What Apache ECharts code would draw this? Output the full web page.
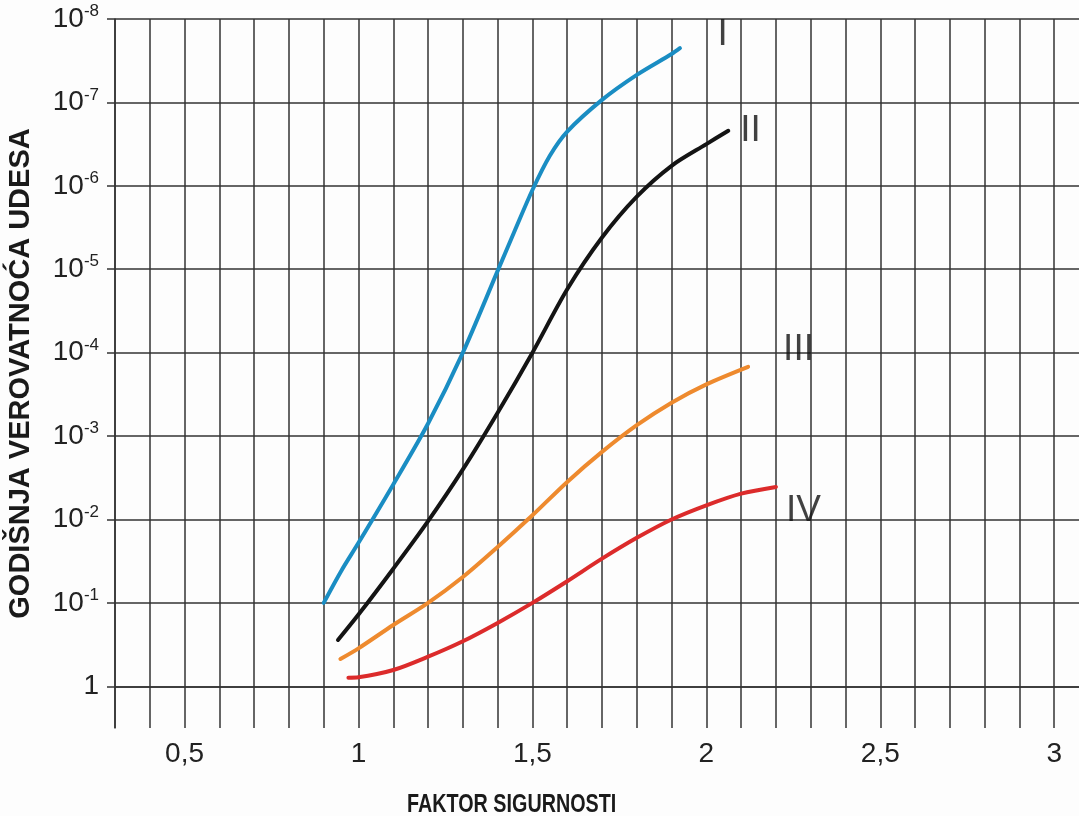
<!DOCTYPE html>
<html>
<head>
<meta charset="utf-8">
<title>Godišnja verovatnoća udesa</title>
<script src="https://cdn.jsdelivr.net/npm/echarts@6/dist/echarts.min.js"></script>
<style>
  html, body { margin: 0; padding: 0; background: #fdfdfd; }
  #chart { width: 1079px; height: 816px; }
</style>
</head>
<body>
<div id="chart"></div>
<script>
// x = faktor sigurnosti, v = eksponent (verovatnoca = 10^-v)
var xI = [0.9, 0.95, 1.0, 1.1, 1.2, 1.3, 1.4, 1.45, 1.5, 1.55, 1.6, 1.7, 1.8, 1.9, 1.924];
var vI = [1.0, 1.38, 1.72, 2.42, 3.15, 4.0, 4.98, 5.47, 5.95, 6.36, 6.65, 7.03, 7.33, 7.58, 7.65];

var xII = [0.941, 1.0, 1.1, 1.2, 1.3, 1.4, 1.5, 1.6, 1.7, 1.8, 1.9, 2.0, 2.063];
var vII = [0.555, 0.86, 1.41, 1.98, 2.6, 3.28, 4.0, 4.76, 5.38, 5.87, 6.24, 6.5, 6.66];

var xIII = [0.948, 1.0, 1.1, 1.2, 1.3, 1.4, 1.5, 1.6, 1.7, 1.8, 1.9, 2.0, 2.12];
var vIII = [0.327, 0.455, 0.735, 1.0, 1.31, 1.67, 2.05, 2.45, 2.81, 3.13, 3.4, 3.62, 3.83];

var xIV = [0.971, 1.0, 1.1, 1.2, 1.3, 1.4, 1.5, 1.6, 1.7, 1.8, 1.9, 2.0, 2.1, 2.2];
var vIV = [0.103, 0.108, 0.195, 0.355, 0.54, 0.76, 1.0, 1.26, 1.53, 1.78, 2.0, 2.17, 2.31, 2.39];

var curveNames = ['I', 'II', 'III', 'IV'];
var nameX = [2.047, 2.127, 2.265, 2.279];
var nameV = [7.81, 6.66, 4.04, 2.10];

var xTickLabels = [0.5, 1, 1.5, 2, 2.5, 3];
var yTickLabels = [0, 1, 2, 3, 4, 5, 6, 7, 8];

var colors = ['#1a8dc3', '#141414', '#ee8a2e', '#dc2b2b'];

function pairs(xs, vs) {
  return xs.map(function (x, i) { return [x, vs[i]]; });
}

var chart = echarts.init(document.getElementById('chart'));
var gridLine = { color: '#333', width: 1.5 };
var font = 'Liberation Sans, Arial, sans-serif';

var lineData = [pairs(xI, vI), pairs(xII, vII), pairs(xIII, vIII), pairs(xIV, vIV)];
var series = lineData.map(function (d, i) {
  return {
    type: 'line',
    data: d,
    smooth: 0.3,
    showSymbol: false,
    lineStyle: { color: colors[i], width: 4, cap: 'round' },
    z: 5
  };
});
series.push({
  type: 'scatter',
  symbolSize: 0,
  data: pairs(nameX, nameV),
  label: {
    show: true,
    position: 'inside',
    formatter: function (p) { return curveNames[p.dataIndex]; },
    fontFamily: font,
    fontSize: 37,
    color: '#111'
  },
  z: 6
});

var option = {
  backgroundColor: '#fdfdfd',
  animation: false,
  grid: { left: 115, top: 19, width: 974, height: 709, outerBoundsMode: 'none', containLabel: false },
  xAxis: {
    type: 'value',
    min: 0.3,
    max: 3.1,
    interval: 0.1,
    axisLine: { show: true, lineStyle: gridLine },
    axisTick: { show: false },
    splitLine: { show: true, lineStyle: gridLine },
    axisLabel: {
      customValues: xTickLabels,
      margin: 12,
      fontFamily: font,
      fontSize: 28,
      color: '#222',
      formatter: function (v) { return String(v).replace('.', ','); }
    }
  },
  yAxis: {
    type: 'value',
    min: -0.5,
    max: 8,
    interval: 0.5,
    name: 'GODIŠNJA VEROVATNOĆA UDESA',
    nameLocation: 'middle',
    nameGap: 80,
    nameTextStyle: { fontFamily: font, fontWeight: 'bold', fontSize: 29, color: '#1a1a1a' },
    axisLine: { show: true, lineStyle: gridLine },
    axisTick: { show: true, customValues: yTickLabels, length: 8, lineStyle: gridLine },
    splitLine: { show: true, lineStyle: gridLine },
    axisLabel: {
      customValues: yTickLabels,
      margin: 16,
      fontSize: 28,
      formatter: function (v) {
        if (v === 0) return '{b|1}';
        return '{b|10}{s|-' + v + '}';
      },
      rich: {
        b: { fontFamily: font, fontSize: 28, color: '#222', lineHeight: 32, verticalAlign: 'middle' },
        s: { fontFamily: font, fontSize: 17, color: '#222', verticalAlign: 'top', lineHeight: 32 }
      }
    }
  },
  graphic: [{
    type: 'text',
    left: 407,
    top: 792,
    scaleX: 0.76,
    style: {
      text: 'FAKTOR SIGURNOSTI',
      font: 'bold 26px Liberation Sans, Arial, sans-serif',
      fill: '#1a1a1a'
    }
  }],
  series: series
};

chart.setOption(option);
</script>
</body>
</html>
